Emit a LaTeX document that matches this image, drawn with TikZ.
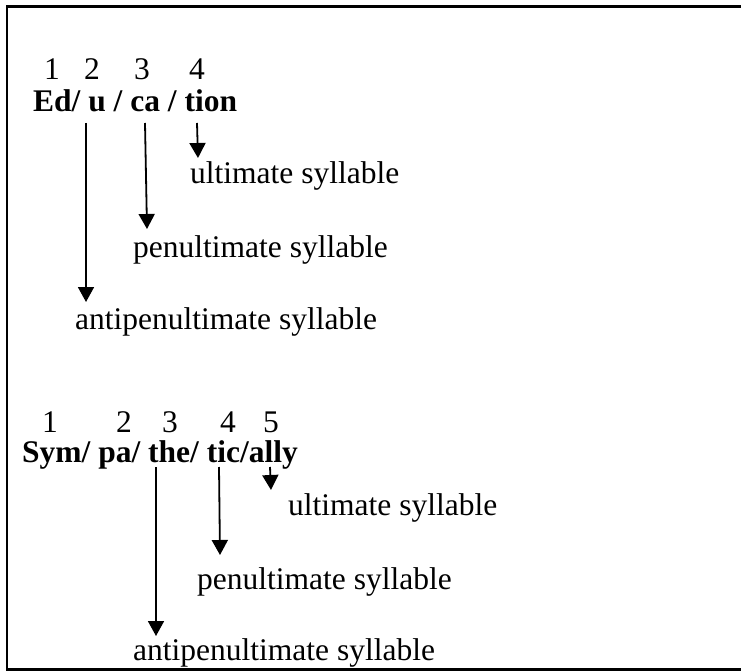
\documentclass[tikz,border=0pt]{standalone}
\usepackage{fontspec}
\setmainfont{Liberation Serif}
\usetikzlibrary{arrows.meta}
\begin{document}
\begin{tikzpicture}[x=1pt,y=-1pt,
  txt/.style={inner sep=0pt, font=\fontsize{31.5}{36}\selectfont},
  num/.style={txt, anchor=base},
  lbl/.style={txt, anchor=base west},
  arr/.style={line width=1.8pt, -{Triangle[width=16pt,length=15pt]}},
  frame/.style={line width=2.5pt}]
\useasboundingbox (0,0) rectangle (741,671);
\coordinate (ftr) at (742,6.5);
\coordinate (ftl) at (7,6.5);
\coordinate (fbl) at (7,669.5);
\coordinate (fbr) at (742,669.5);
\draw[frame] (ftr) -- (ftl) -- (fbl) -- (fbr);
% ---- Education ----
\node[num] (n11) at (52,80) {1};
\node[num] (n12) at (92,80) {2};
\node[num] (n13) at (142,80) {3};
\node[num] (n14) at (197,80) {4};
\node[lbl] (w1) at (33,112) {\textbf{Ed/ u / ca / tion}};
\node[lbl] (ult1) at (190,184) {ultimate syllable};
\node[lbl] (pen1) at (133,257) {penultimate syllable};
\node[lbl] (ant1) at (75,329) {antipenultimate syllable};
\coordinate (s11) at (86,123);  \coordinate (e11) at (86,302);
\coordinate (s12) at (145,123); \coordinate (e12) at (147,229);
\coordinate (s13) at (197,123); \coordinate (e13) at (198,158);
\draw[arr] (s11) -- (e11);
\draw[arr] (s12) -- (e12);
\draw[arr] (s13) -- (e13);
% ---- Sympathetically ----
\node[num] (n21) at (50,432) {1};
\node[num] (n22) at (124,432) {2};
\node[num] (n23) at (170,432) {3};
\node[num] (n24) at (228,432) {4};
\node[num] (n25) at (271,432) {5};
\node[lbl] (w2) at (22,462) {\textbf{Sym/ pa/ the/ tic/ally}};
\node[lbl] (ult2) at (288,515) {ultimate syllable};
\node[lbl] (pen2) at (197,589) {penultimate syllable};
\node[lbl] (ant2) at (133,660) {antipenultimate syllable};
\coordinate (s21) at (156,467); \coordinate (e21) at (156,636);
\coordinate (s22) at (219,467); \coordinate (e22) at (220,555);
\coordinate (s23) at (270,467); \coordinate (e23) at (271,490);
\draw[arr] (s21) -- (e21);
\draw[arr] (s22) -- (e22);
\draw[arr] (s23) -- (e23);
\end{tikzpicture}
\end{document}
